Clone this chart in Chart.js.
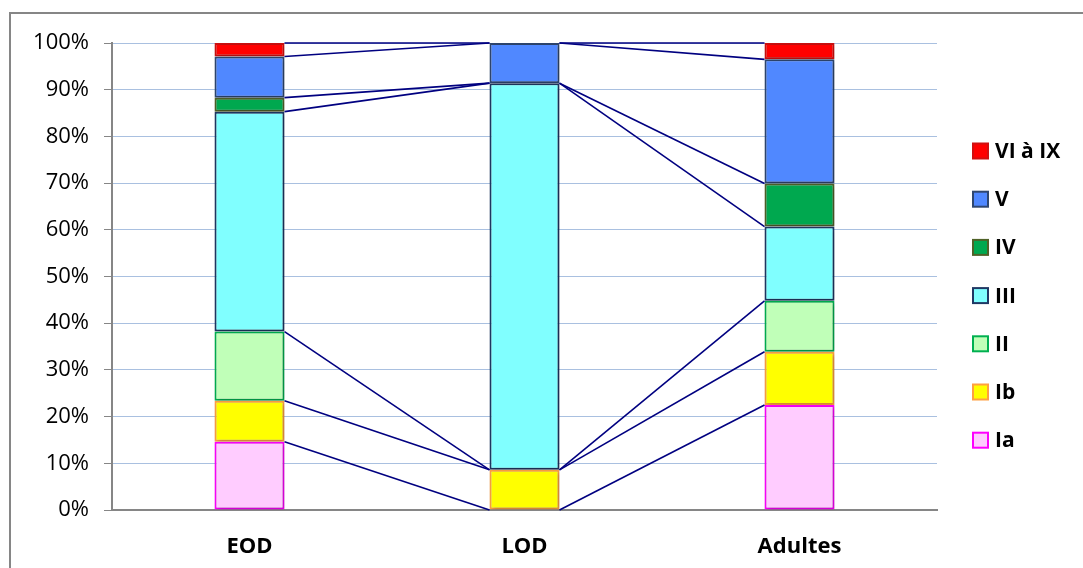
<!DOCTYPE html>
<html>
<head>
<meta charset="utf-8">
<script src="https://cdn.jsdelivr.net/npm/chart.js@4/dist/chart.umd.min.js"></script>
<style>
  html, body { margin: 0; padding: 0; background: #fff; }
  #wrap { position: relative; width: 1083px; height: 568px; overflow: hidden; }
</style>
</head>
<body>
<div id="wrap"><canvas id="c" width="1083" height="568"></canvas></div>
<script>
// Categories (x axis)
const categories = ['EOD', 'LOD', 'Adultes'];

// Share of each class per group, in percent (bottom to top of each stack)
const seriesNames = ['Ia', 'Ib', 'II', 'III', 'IV', 'V', 'VI à IX'];
const valuesIa   = [14.6, 0.0, 22.5];
const valuesIb   = [8.8, 8.6, 11.4];
const valuesII   = [14.8, 0.0, 10.9];
const valuesIII  = [47.1, 82.8, 15.9];
const valuesIV   = [3.0, 0.0, 9.2];
const valuesV    = [8.8, 8.6, 26.6];
const valuesVI   = [2.9, 0.0, 3.5];

// Y axis tick values
const yTicks = [0, 10, 20, 30, 40, 50, 60, 70, 80, 90, 100];

const fills   = ['#ffccff', '#ffff00', '#c0ffb8', '#80ffff', '#00a84f', '#5088ff', '#ff0000'];
const borders = ['#ff00ff', '#ffa040', '#00b050', '#1f3864', '#4f6228', '#2f4770', '#d01010'];
const allValues = [valuesIa, valuesIb, valuesII, valuesIII, valuesIV, valuesV, valuesVI];

const datasets = allValues.map((vals, i) => ({
  label: seriesNames[i],
  data: vals,
  backgroundColor: fills[i],
  borderColor: borders[i],
  borderWidth: c => (c.raw ? 2 : 0),
  borderSkipped: false,
  categoryPercentage: 1,
  barPercentage: 70 / 275
}));

// Outer frame of the chart object (top and left edges)
const framePlugin = {
  id: 'frame',
  beforeDraw(chart) {
    const ctx = chart.ctx;
    ctx.save();
    ctx.strokeStyle = '#868686';
    ctx.lineWidth = 2;
    ctx.beginPath();
    ctx.moveTo(10, 568);
    ctx.lineTo(10, 13);
    ctx.lineTo(1083, 13);
    ctx.stroke();
    ctx.restore();
  }
};

// Soft shadow behind the bars
const shadowPlugin = {
  id: 'barShadow',
  beforeDatasetDraw(chart) {
    const ctx = chart.ctx;
    ctx.save();
    ctx.shadowColor = 'rgba(0,0,0,0.28)';
    ctx.shadowBlur = 4;
    ctx.shadowOffsetX = 1;
    ctx.shadowOffsetY = 1;
  },
  afterDatasetDraw(chart) {
    chart.ctx.restore();
  }
};

// Series lines joining the top of each segment between neighbouring bars
const seriesLinesPlugin = {
  id: 'seriesLines',
  afterDatasetsDraw(chart) {
    const ctx = chart.ctx;
    const y = chart.scales.y;
    const n = categories.length;
    ctx.save();
    ctx.strokeStyle = '#000080';
    ctx.lineWidth = 1.6;
    const cum = new Array(n).fill(0);
    chart.data.datasets.forEach((ds, di) => {
      const meta = chart.getDatasetMeta(di);
      for (let k = 0; k < n; k++) cum[k] += ds.data[k];
      for (let k = 0; k < n - 1; k++) {
        const a = meta.data[k], b = meta.data[k + 1];
        const x1 = a.x + a.width / 2;
        const x2 = b.x - b.width / 2;
        ctx.beginPath();
        ctx.moveTo(x1, y.getPixelForValue(Math.min(cum[k], 100)));
        ctx.lineTo(x2, y.getPixelForValue(Math.min(cum[k + 1], 100)));
        ctx.stroke();
      }
    });
    ctx.restore();
  }
};

// Legend on the right, top entry is the last series
const legendPlugin = {
  id: 'sideLegend',
  afterDraw(chart) {
    const ctx = chart.ctx;
    const dsets = chart.data.datasets;
    ctx.save();
    ctx.font = 'bold 21px "Open Sans", sans-serif';
    ctx.textBaseline = 'middle';
    ctx.textAlign = 'left';
    const x0 = 973, y0 = 151, step = 48.2, sz = 15;
    for (let i = dsets.length - 1, row = 0; i >= 0; i--, row++) {
      const cy = y0 + row * step;
      ctx.fillStyle = dsets[i].backgroundColor;
      ctx.fillRect(x0, cy - sz / 2, sz, sz);
      ctx.strokeStyle = dsets[i].borderColor;
      ctx.lineWidth = 2;
      ctx.strokeRect(x0, cy - sz / 2, sz, sz);
      ctx.fillStyle = '#000';
      ctx.fillText(dsets[i].label, x0 + 22, cy + 1);
    }
    ctx.restore();
  }
};

new Chart(document.getElementById('c'), {
  type: 'bar',
  data: { labels: categories, datasets },
  options: {
    responsive: false,
    animation: false,
    layout: { padding: { top: 43, right: 146, left: 0, bottom: 0 } },
    plugins: { legend: { display: false }, tooltip: { enabled: false } },
    scales: {
      x: {
        stacked: true,
        grid: { display: false, drawTicks: false },
        border: { color: '#868686', width: 2 },
        ticks: {
          color: '#000',
          font: { family: '"Open Sans", sans-serif', size: 22, weight: 'bold' },
          padding: 24
        },
        afterFit(scale) { scale.height = 58; }
      },
      y: {
        stacked: true,
        min: 0,
        max: 100,
        afterBuildTicks(scale) { scale.ticks = yTicks.map(v => ({ value: v })); },
        grid: { color: '#a9c0e0', lineWidth: 1, tickColor: '#868686', tickLength: 8 },
        border: { color: '#868686', width: 2 },
        ticks: {
          color: '#000',
          font: { family: '"Open Sans", sans-serif', size: 22 },
          padding: 15,
          callback: v => v + '%'
        },
        afterFit(scale) { scale.width = 112; }
      }
    }
  },
  plugins: [framePlugin, shadowPlugin, seriesLinesPlugin, legendPlugin]
});
</script>
</body>
</html>
